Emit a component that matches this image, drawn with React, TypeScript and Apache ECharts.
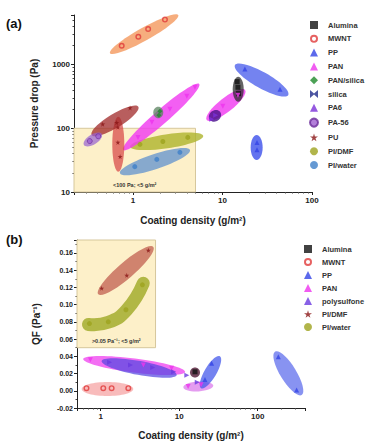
import React, { useEffect, useRef } from 'react';
import * as echarts from 'echarts';

type Pt = [number, number];

const FONT = 'Arial, "Liberation Sans", Helvetica, sans-serif';

// ---------------- Panel (a): pressure drop vs coating density ----------------
const aXRange: Pt = [0.22, 100];
const aYRange: Pt = [10, 6000];
const aAlumina: Pt[] = [[14.6, 540], [14.9, 440], [15.1, 350]];
const aMWNT: Pt[] = [[0.75, 1977], [1.15, 2740], [1.48, 3620], [2.28, 5080]];
const aPP: Pt[] = [[17.8, 849], [43.9, 411], [24.3, 60], [24.3, 46]];
const aPAN: Pt[] = [[1.14, 72], [1.63, 124], [2.59, 199], [4.0, 319], [4.93, 442], [10.1, 222], [14.9, 331]];
const aPANsilica: Pt[] = [[2.0, 185], [1.95, 160]];
const aSilica: Pt[] = [];
const aPA6: Pt[] = [[7.6, 139], [8.4, 160]];
const aPA56: Pt[] = [[0.33, 63], [0.41, 75]];
const aPU: Pt[] = [[0.46, 116], [0.66, 123], [0.93, 209], [0.68, 104], [0.68, 60], [0.72, 36]];
const aPIDMF: Pt[] = [[1.2, 56], [2.16, 62], [4.1, 72]];
const aPIwater: Pt[] = [[1.05, 25], [1.85, 32.5], [3.35, 42]];
const aBox = [0.22, 10, 5, 100];
const aBoxText = '<100 Pa; <5 g/m²';
const aOutlines: Pt[][] = [
  [[0.718, 19.7], [4.34, 45.6]],   // PI/water
  [[0.93, 51.4], [6.1, 75.7]],     // PI/DMF
  [[0.78, 45.6], [5.5, 496]],      // PAN
  [[1.92, 218], [1.92, 143.6]],    // PAN/silica
  [[0.687, 152], [0.687, 20.8]],   // PU (second)
  [[0.347, 78.5], [1.15, 218]],    // PU
  [[0.284, 54.7], [0.449, 81.5]],  // PA-56
  [[0.555, 1503], [3.21, 6000]],   // MWNT
  [[6.67, 135], [17.9, 399]],      // PAN
  [[7.26, 135], [9.4, 182]],       // PA6
  [[15.0, 646], [15.0, 262]],      // Alumina
  [[13.8, 986], [54.4, 333]],      // PP
  [[24.1, 78.5], [24.1, 31.8]],    // PP
];
const aOutlineStyles = [
  { fill: 'rgba(95,145,205,0.75)', half: 7.5 },
  { fill: 'rgba(172,178,40,0.78)', half: 7 },
  { fill: 'rgba(240,60,240,0.82)', half: 7 },
  { fill: 'rgba(90,130,95,0.75)', half: 5 },
  { fill: 'rgba(215,70,70,0.72)', half: 6 },
  { fill: 'rgba(160,40,40,0.75)', half: 7 },
  { fill: 'rgba(150,95,210,0.7)', half: 5 },
  { fill: 'rgba(243,150,90,0.78)', half: 6.5 },
  { fill: 'rgba(240,60,240,0.82)', half: 7 },
  { fill: 'rgba(75,20,140,0.82)', half: 5.5 },
  { fill: 'rgba(40,40,40,0.72)', half: 5.5 },
  { fill: 'rgba(70,90,235,0.75)', half: 8 },
  { fill: 'rgba(60,80,235,0.8)', half: 6 },
];
const legendANames = ['Alumina', 'MWNT', 'PP', 'PAN', 'PAN/silica', 'silica', 'PA6', 'PA-56', 'PU', 'PI/DMF', 'PI/water'];

// ---------------- Panel (b): quality factor vs coating density ----------------
const bXRange: Pt = [0.5, 400];
const bYRange: Pt = [-0.02, 0.175];
const bYStep = 0.02;
const bAlumina: Pt[] = [[15.9, 0.022]];
const bMWNT: Pt[] = [[0.66, 0.003], [1.08, 0.003], [1.38, 0.003], [2.25, 0.003]];
const bPP: Pt[] = [[25.9, 0.032], [21.3, 0.013], [183, 0.0395], [313, 0.001]];
const bPAN: Pt[] = [[0.74, 0.036], [3.5, 0.03], [8, 0.026], [13, 0.005], [19, 0.007]];
const bPolysulfone: Pt[] = [[1.3, 0.033], [2.4, 0.03], [4.6, 0.027], [8.5, 0.022], [12.5, 0.018], [17, 0.01]];
const bPIDMF: Pt[] = [[1.03, 0.119], [2.15, 0.134], [4.05, 0.163]];
const bPIwater: Pt[] = [[0.72, 0.078], [1.25, 0.08], [2.1, 0.094], [3.4, 0.123]];
const bBox = [0.5, 0.05, 5, 0.175];
const bBoxText = '>0.05 Pa⁻¹; <5 g/m²';
const bOutlines: Pt[][] = [
  [[0.574, 0.002], [2.6, 0.002]],       // MWNT
  [[0.6, 0.0369], [11.9, 0.0218]],      // PAN
  [[1.03, 0.0346], [9.3, 0.0183]],      // polysulfone
  [[11.3, 0.004], [27.2, 0.006]],       // PAN / polysulfone
  [[19, 0.003], [33, 0.04]],            // PP
  [[15.9, 0.026], [15.9, 0.0163]],      // Alumina
  [[166, 0.0453], [363, -0.0049]],      // PP
  [[0.933, 0.112], [4.68, 0.167]],      // PI/DMF
  [[0.7, 0.077], [1.25, 0.0795], [2.15, 0.0938], [3.49, 0.1247]], // PI/water
];
const bOutlineStyles = [
  { fill: 'rgba(245,150,150,0.65)', half: 7 },
  { fill: 'rgba(240,70,240,0.78)', half: 7 },
  { fill: 'rgba(85,70,225,0.72)', half: 7 },
  { fill: 'rgba(210,90,230,0.6)', half: 5 },
  { fill: 'rgba(70,90,235,0.75)', half: 6 },
  { fill: 'rgba(70,10,40,0.75)', half: 5 },
  { fill: 'rgba(90,105,235,0.72)', half: 8 },
  { fill: 'rgba(195,100,85,0.78)', half: 8 },
  { fill: 'rgba(160,170,40,0.82)', half: 6.5 },
];
const legendBNames = ['Alumina', 'MWNT', 'PP', 'PAN', 'polysulfone', 'PI/DMF', 'PI/water'];

// ---------------- symbols ----------------
const STAR = 'path://M50,0 L61,35 L98,35 L68,57 L79,91 L50,70 L21,91 L32,57 L2,35 L39,35 Z';
const BOWTIE = 'path://M0,0 L50,45 L100,0 L100,100 L50,55 L0,100 Z';
const RING = 'path://M50,0 A50,50 0 1,0 50,100 A50,50 0 1,0 50,0 Z M50,24 A26,26 0 1,1 50,76 A26,26 0 1,1 50,24 Z';

const fmt = (v: number) => String(+Number(v).toPrecision(3));

function outlineSeries(outlines: Pt[][], styles: { fill: string; half: number }[], idx: number) {
  return {
    type: 'custom',
    name: 'outline' + idx,
    xAxisIndex: idx,
    yAxisIndex: idx,
    z: 2,
    silent: true,
    clip: false,
    data: outlines.map((o, i) => [o[0][0], o[0][1], i]),
    encode: { x: 0, y: 1 },
    renderItem: (params: any, api: any) => {
      const i = params.dataIndex;
      const st = styles[i];
      const pts = outlines[i].map((p) => api.coord(p));
      if (pts.length > 2) {
        return {
          type: 'polyline',
          shape: { points: pts, smooth: 0.5 },
          style: { stroke: st.fill, lineWidth: st.half * 2, lineCap: 'round', lineJoin: 'round', fill: null },
        };
      }
      const a = pts[0];
      const b = pts[1];
      const dx = b[0] - a[0];
      const dy = b[1] - a[1];
      const len = Math.hypot(dx, dy);
      return {
        type: 'ellipse',
        x: (a[0] + b[0]) / 2,
        y: (a[1] + b[1]) / 2,
        rotation: -Math.atan2(dy, dx),
        shape: { cx: 0, cy: 0, rx: Math.max(len / 2, st.half), ry: st.half },
        style: { fill: st.fill },
      };
    },
  };
}

function boxSeries(box: number[], text: string, idx: number) {
  return {
    type: 'custom',
    name: 'box' + idx,
    xAxisIndex: idx,
    yAxisIndex: idx,
    z: 1,
    silent: true,
    clip: false,
    data: [box],
    encode: { x: [0, 2], y: [1, 3] },
    renderItem: (params: any, api: any) => {
      const p0 = api.coord([api.value(0), api.value(1)]);
      const p1 = api.coord([api.value(2), api.value(3)]);
      return {
        type: 'group',
        children: [
          {
            type: 'rect',
            shape: { x: p0[0], y: p1[1], width: p1[0] - p0[0], height: p0[1] - p1[1] },
            style: { fill: '#fdf0c9', stroke: '#d6c79c', lineWidth: 1 },
          },
          {
            type: 'text',
            x: (p0[0] + p1[0]) / 2,
            y: p0[1] - 7,
            style: {
              text,
              fontSize: 5.5,
              fontWeight: 'bold',
              fontFamily: FONT,
              fill: '#333',
              align: 'center',
              verticalAlign: 'middle',
            },
          },
        ],
      };
    },
  };
}

function sc(name: string, data: Pt[], idx: number, symbol: string, color: string, extra: any = {}) {
  return {
    type: 'scatter',
    name,
    data,
    xAxisIndex: idx,
    yAxisIndex: idx,
    symbol,
    symbolSize: 5,
    z: 3,
    itemStyle: { color },
    ...extra,
  };
}

const axisCommon = {
  nameLocation: 'middle',
  nameTextStyle: { fontSize: 10, fontWeight: 'bold', color: '#222', fontFamily: FONT },
  axisLine: { onZero: false, lineStyle: { color: '#222', width: 1 } },
  axisTick: { length: 3, lineStyle: { color: '#222' } },
  splitLine: { show: false },
  minorSplitLine: { show: false },
};
const labelCommon = { fontSize: 8, fontWeight: 'bold', color: '#222', fontFamily: FONT, margin: 4 };
const legendText = { fontSize: 7.5, fontWeight: 'bold', color: '#333', fontFamily: FONT, lineHeight: 8, padding: [0, 0, 0, 5] };

const option: any = {
  animation: false,
  backgroundColor: '#fff',
  grid: [
    { left: 74, top: 15, width: 238, height: 177, containLabel: false, outerBoundsMode: 'none' },
    { left: 77, top: 240, width: 228, height: 168, containLabel: false, outerBoundsMode: 'none' },
  ],
  xAxis: [
    {
      ...axisCommon,
      type: 'log',
      logBase: 10,
      gridIndex: 0,
      min: aXRange[0],
      max: aXRange[1],
      name: 'Coating density (g/m²)',
      nameGap: 23,
      minorTick: { show: true, splitNumber: 9, length: 1.5, lineStyle: { color: '#444' } },
      axisLabel: { ...labelCommon, showMinLabel: false, formatter: fmt },
    },
    {
      ...axisCommon,
      type: 'log',
      logBase: 10,
      gridIndex: 1,
      min: bXRange[0],
      max: bXRange[1],
      name: 'Coating density (g/m²)',
      nameGap: 22,
      minorTick: { show: true, splitNumber: 9, length: 1.5, lineStyle: { color: '#444' } },
      axisLabel: { ...labelCommon, showMinLabel: false, showMaxLabel: false, formatter: fmt },
    },
  ],
  yAxis: [
    {
      ...axisCommon,
      type: 'log',
      logBase: 10,
      gridIndex: 0,
      min: aYRange[0],
      max: aYRange[1],
      name: 'Pressure drop (Pa)',
      nameGap: 35,
      minorTick: { show: true, splitNumber: 9, length: 1.5, lineStyle: { color: '#444' } },
      axisLabel: { ...labelCommon, showMaxLabel: false, formatter: fmt },
    },
    {
      ...axisCommon,
      type: 'value',
      gridIndex: 1,
      min: bYRange[0],
      max: bYRange[1],
      interval: bYStep,
      name: 'QF (Pa⁻¹)',
      nameGap: 36,
      minorTick: { show: true, splitNumber: 2, length: 1.5, lineStyle: { color: '#444' } },
      axisLabel: { ...labelCommon, fontSize: 7, showMaxLabel: false, formatter: (v: number) => v.toFixed(2) },
    },
  ],
  legend: [
    {
      orient: 'vertical',
      left: 309,
      top: 21,
      itemWidth: 8,
      itemHeight: 8,
      itemGap: 5.8,
      padding: 0,
      selectedMode: false,
      textStyle: legendText,
      data: legendANames,
    },
    {
      orient: 'vertical',
      left: 304,
      top: 245,
      itemWidth: 8,
      itemHeight: 8,
      itemGap: 5,
      padding: 0,
      selectedMode: false,
      textStyle: legendText,
      data: legendBNames.map((n) =>
        n === 'PI/DMF'
          ? { name: n, icon: STAR, itemStyle: { color: '#8a1515' } }
          : n === 'PI/water'
          ? { name: n, icon: 'circle', itemStyle: { color: '#9da21e' } }
          : { name: n }
      ),
    },
  ],
  graphic: [
    { type: 'text', left: 6, top: 17, style: { text: '(a)', font: 'bold 13px Arial, "Liberation Sans", sans-serif', fill: '#111' } },
    { type: 'text', left: 6, top: 233, style: { text: '(b)', font: 'bold 13px Arial, "Liberation Sans", sans-serif', fill: '#111' } },
  ],
  series: [
    boxSeries(aBox, aBoxText, 0),
    outlineSeries(aOutlines, aOutlineStyles, 0),
    sc('Alumina', aAlumina, 0, 'rect', '#111'),
    sc('MWNT', aMWNT, 0, RING, '#e03a3a', { symbolSize: 6 }),
    sc('PP', aPP, 0, 'triangle', '#3344e6'),
    sc('PAN', aPAN, 0, 'triangle', '#ee33ee', { symbolRotate: 180 }),
    sc('PAN/silica', aPANsilica, 0, 'diamond', '#1f8a2a'),
    sc('silica', aSilica, 0, BOWTIE, '#1f2a8a'),
    sc('PA6', aPA6, 0, 'triangle', '#7a30d8', { symbolRotate: -90 }),
    sc('PA-56', aPA56, 0, 'circle', '#a060d0', { itemStyle: { color: '#a060d0', borderColor: '#6a2a9a', borderWidth: 0.8 } }),
    sc('PU', aPU, 0, STAR, '#8a1515'),
    sc('PI/DMF', aPIDMF, 0, 'circle', '#9da21e'),
    sc('PI/water', aPIwater, 0, 'circle', '#3f80c8'),

    boxSeries(bBox, bBoxText, 1),
    outlineSeries(bOutlines, bOutlineStyles, 1),
    sc('Alumina', bAlumina, 1, 'rect', '#111'),
    sc('MWNT', bMWNT, 1, RING, '#e03a3a', { symbolSize: 6 }),
    sc('PP', bPP, 1, 'triangle', '#3344e6'),
    sc('PAN', bPAN, 1, 'triangle', '#ee33ee', { symbolRotate: 180 }),
    sc('polysulfone', bPolysulfone, 1, 'triangle', '#6a3ae0', { symbolRotate: -90 }),
    sc('PI/DMF', bPIDMF, 1, STAR, '#8a1515'),
    sc('PI/water', bPIwater, 1, 'circle', '#9da21e'),
  ],
};

export default function App() {
  const ref = useRef<HTMLDivElement>(null);
  useEffect(() => {
    document.body.style.margin = '0';
    const chart = echarts.init(ref.current as HTMLDivElement, null, { renderer: 'svg' });
    chart.setOption(option);
    return () => chart.dispose();
  }, []);
  return <div ref={ref} style={{ width: 380, height: 442, background: '#fff' }} />;
}
